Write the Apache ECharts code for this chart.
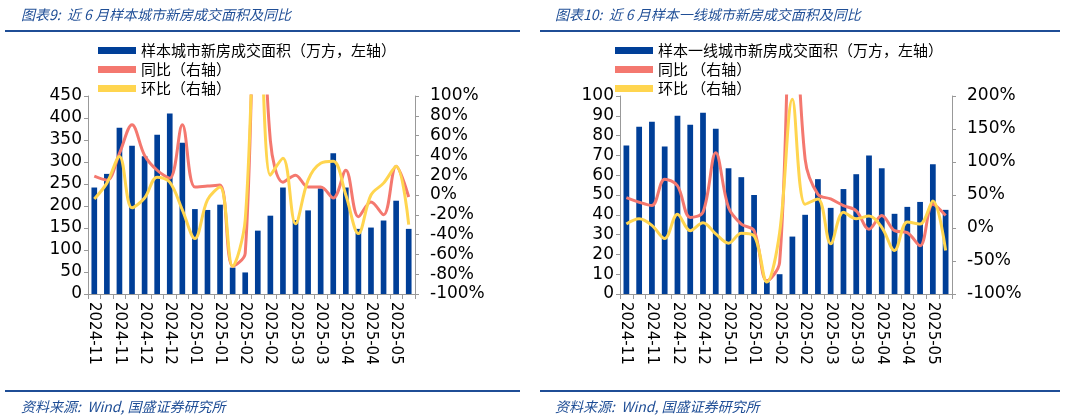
<!DOCTYPE html>
<html><head><meta charset="utf-8">
<script src="https://cdn.jsdelivr.net/npm/echarts@6/dist/echarts.min.js"></script>
<style>html,body{margin:0;padding:0;background:#fff}#c{width:1065px;height:417px}</style>
</head><body><div id="c"></div>
<script>
const categories = ['2024-11','2024-11','2024-11','2024-11','2024-12','2024-12','2024-12','2024-12','2025-01','2025-01','2025-01','2025-01','2025-02','2025-02','2025-02','2025-02','2025-03','2025-03','2025-03','2025-03','2025-04','2025-04','2025-04','2025-04','2025-05','2025-05'];
const tickLabels = ['2024-11','2024-11','2024-12','2024-12','2025-01','2025-01','2025-02','2025-02','2025-03','2025-03','2025-04','2025-04','2025-05'];
const leftArea = [242,273,378,337,313,362,410,344,193,191,203,60,49,144,178,242,168,190,240,320,242,148,151,167,212,148];
const leftYoy = [19,15,42,71,40,25,17,71,8,9,10,-72,-59,300,55,13,20,8,8,-3,25,-22,-7,-20,29,-2];
const leftMom = [-4,12,39,-13,-3,18,13,-15,-44,-5,8,-72,-25,250,20,37,-29,15,32,34,0,-39,0,12,29,-30];
const rightArea = [75,84.5,87,74.5,90,85.5,91.5,83.5,63.5,59,50,6,10,29,40,58,43.5,53,60.5,70,63.5,40.5,44,46.5,65.5,42.5];
const rightYoy = [46,39,34,74,64,16,24,114,31,6,-4,-80,-52,400,104,51,44,34,26,-2,19,-4,-7,-27,36,19];
const rightMom = [6,14,4,-16,21,-4,8,-9,-23,-8,-12,-82,-7,195,36,44,-24,24,14,18,1,-34,9,6,41,-34];

const blue='#003f98', red='#f4786f', yellow='#ffd54f', dark='#1f4e96';
const font='"Noto Sans CJK SC","Noto Sans",sans-serif';
const labelFmt = (v,i)=> i%2===0 ? tickLabels[i/2] : '';
function xAxis(gi){return {type:'category',gridIndex:gi,data:categories,boundaryGap:true,
  axisLine:{lineStyle:{color:'#999'}},axisTick:{show:true,interval:0,lineStyle:{color:'#999'}},
  axisLabel:{interval:0,rotate:-90,fontSize:15,color:'#000',fontFamily:'Verdana,"DejaVu Sans",sans-serif',formatter:labelFmt,margin:8}};}
function yAxis(gi,min,max,interval,pct,pos){return {type:'value',gridIndex:gi,min,max,interval,position:pos,
  axisLine:{show:true,lineStyle:{color:'#999'}},axisTick:{show:true,length:4,lineStyle:{color:'#999'}},splitLine:{show:false},
  axisLabel:{fontSize:17,color:'#000',fontFamily:'Verdana,"DejaVu Sans",sans-serif',margin:pos==='left'?6:15,formatter:pct?(v=>v+'%'):undefined}};}
function line(name,data,color,xi,yi){return {name,type:'line',xAxisIndex:xi,yAxisIndex:yi,data,smooth:0.35,symbol:'none',clip:true,lineStyle:{color,width:3},itemStyle:{color},z:3};}
const legendText = {fontSize:15,fontFamily:font,color:'#000'};
const option = {
  animation:false,
  title:[
    {text:'图表9:  近 6 月样本城市新房成交面积及同比',left:16,top:3,textStyle:{fontSize:14,fontStyle:'italic',fontWeight:'normal',color:dark,fontFamily:font}},
    {text:'图表10:  近 6 月样本一线城市新房成交面积及同比',left:550,top:3,textStyle:{fontSize:14,fontStyle:'italic',fontWeight:'normal',color:dark,fontFamily:font}},
    {text:'资料来源:  Wind, 国盛证券研究所',left:16,top:395,textStyle:{fontSize:14,fontStyle:'italic',fontWeight:'normal',color:dark,fontFamily:font}},
    {text:'资料来源:  Wind, 国盛证券研究所',left:550,top:395,textStyle:{fontSize:14,fontStyle:'italic',fontWeight:'normal',color:dark,fontFamily:font}}
  ],
  graphic:[
    {type:'rect',shape:{x:5,y:30,width:515,height:2},style:{fill:dark}},
    {type:'rect',shape:{x:540,y:30,width:520,height:2},style:{fill:dark}},
    {type:'rect',shape:{x:5,y:390,width:515,height:2},style:{fill:dark}},
    {type:'rect',shape:{x:540,y:390,width:520,height:2},style:{fill:dark}}
  ],
  legend:[
    {orient:'vertical',left:93,top:38,itemWidth:38,itemHeight:7,itemGap:4,textStyle:legendText,
     data:[{name:'样本城市新房成交面积（万方，左轴）',icon:'rect'},{name:'同比（右轴）',icon:'rect'},{name:'环比（右轴）',icon:'rect'}]},
    {orient:'vertical',left:610,top:38,itemWidth:38,itemHeight:7,itemGap:4,textStyle:legendText,
     data:[{name:'样本一线城市新房成交面积（万方，左轴）',icon:'rect'},{name:'同比 （右轴）',icon:'rect'},{name:'环比 （右轴）',icon:'rect'}]}
  ],
  grid:[{left:88,top:96,width:327,height:198},{left:620,top:96,width:332,height:198}],
  xAxis:[xAxis(0),xAxis(1)],
  yAxis:[yAxis(0,0,450,50,false,'left'),yAxis(0,-100,100,20,true,'right'),yAxis(1,0,100,10,false,'left'),yAxis(1,-100,200,50,true,'right')],
  series:[
    {name:'样本城市新房成交面积（万方，左轴）',type:'bar',xAxisIndex:0,yAxisIndex:0,data:leftArea,barWidth:'45%',itemStyle:{color:blue}},
    line('同比（右轴）',leftYoy,red,0,1),
    line('环比（右轴）',leftMom,yellow,0,1),
    {name:'样本一线城市新房成交面积（万方，左轴）',type:'bar',xAxisIndex:1,yAxisIndex:2,data:rightArea,barWidth:'45%',itemStyle:{color:blue}},
    line('同比 （右轴）',rightYoy,red,1,3),
    line('环比 （右轴）',rightMom,yellow,1,3)
  ]
};
echarts.init(document.getElementById('c')).setOption(option);
</script></body></html>
